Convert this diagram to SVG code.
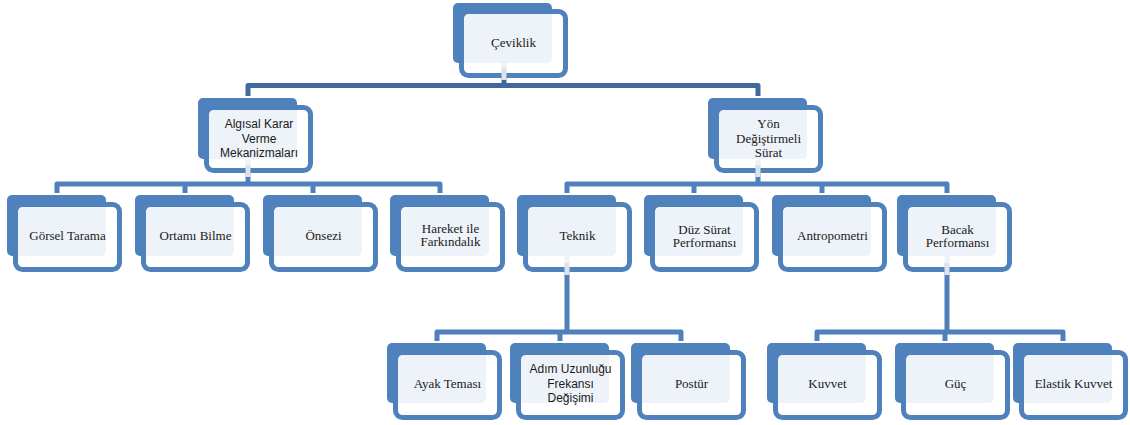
<svg xmlns="http://www.w3.org/2000/svg" width="1130" height="425" viewBox="0 0 1130 425">
  <style>
    .back { fill: #4f81bd; }
    .front { fill: #ffffff; fill-opacity: 0.9; stroke: #4f81bd; stroke-width: 5; }
    .serif { font-family: "Liberation Serif", "Times New Roman", serif; font-size: 13px; fill: #1a1a1a; text-anchor: middle; }
    .sans { font-family: "Liberation Sans", Arial, sans-serif; font-size: 12px; fill: #1a1a1a; text-anchor: middle; }
    .link { fill: none; stroke: #4f80bb; stroke-width: 5; stroke-linejoin: round; }
    .link-top { stroke: #41699b; }
    .tap { fill: #dbe3ee; }
  </style>
  <rect width="1130" height="425" fill="#ffffff"/>

  <!-- connectors -->
  <g id="connectors">
    <path class="link link-top" d="M504,63 V85.5 M248,96 V85.5 H758 V96"/>
    <path class="link" d="M248,160 V184 M57,193 V184 H440 V193 M185,184 V193 M313,184 V193"/>
    <path class="link" d="M758,160 V184 M567,193 V184 H947 V193 M694,184 V193 M822,184 V193"/>
    <path class="link" d="M567,256 V332 M437,341 V332 H681 V341 M560,332 V341"/>
    <path class="link" d="M947,256 V332 M817,341 V332 H1063 V341 M945,332 V341"/>
  </g>

  <!-- top -->
  <g id="n-ceviklik" transform="translate(453,3)">
    <rect class="back" width="99" height="60" rx="5"/>
    <rect class="front" x="8.5" y="8.5" width="104" height="64" rx="7"/>
    <rect class="tap" x="48.5" y="65" width="5" height="12"/>
    <text class="serif" x="60.5" y="44">Çeviklik</text>
  </g>

  <!-- level 1 -->
  <g id="n-algisal" transform="translate(198,98)">
    <rect class="back" width="99" height="61" rx="5"/>
    <rect class="front" x="8.5" y="9.5" width="104" height="63" rx="7"/>
    <rect class="tap" x="47.5" y="67" width="5" height="12"/>
    <text class="sans" x="61" y="30">Algısal Karar</text>
    <text class="sans" x="61" y="45">Verme</text>
    <text class="sans" x="61" y="59">Mekanizmaları</text>
  </g>
  <g id="n-yon" transform="translate(708,98)">
    <rect class="back" width="99" height="61" rx="5"/>
    <rect class="front" x="8.5" y="9.5" width="104" height="63" rx="7"/>
    <rect class="tap" x="47.5" y="67" width="5" height="12"/>
    <text class="serif" x="60.5" y="30">Yön</text>
    <text class="serif" x="60.5" y="45">Değiştirmeli</text>
    <text class="serif" x="60.5" y="59">Sürat</text>
  </g>

  <!-- level 2 -->
  <g id="n-gorsel" transform="translate(7,195)">
    <rect class="back" width="99" height="61" rx="5"/>
    <rect class="front" x="8.5" y="9.5" width="104" height="65" rx="7"/>
    <text class="serif" x="60.5" y="45">Görsel Tarama</text>
  </g>
  <g id="n-ortam" transform="translate(135,195)">
    <rect class="back" width="99" height="61" rx="5"/>
    <rect class="front" x="8.5" y="9.5" width="104" height="65" rx="7"/>
    <text class="serif" x="60.5" y="45">Ortamı Bilme</text>
  </g>
  <g id="n-onsezi" transform="translate(263,195)">
    <rect class="back" width="99" height="61" rx="5"/>
    <rect class="front" x="8.5" y="9.5" width="104" height="65" rx="7"/>
    <text class="serif" x="60.5" y="45">Önsezi</text>
  </g>
  <g id="n-hareket" transform="translate(390,195)">
    <rect class="back" width="99" height="61" rx="5"/>
    <rect class="front" x="8.5" y="9.5" width="104" height="65" rx="7"/>
    <text class="serif" x="60.5" y="38">Hareket ile</text>
    <text class="serif" x="60.5" y="51">Farkındalık</text>
  </g>
  <g id="n-teknik" transform="translate(517,195)">
    <rect class="back" width="99" height="61" rx="5"/>
    <rect class="front" x="8.5" y="9.5" width="104" height="65" rx="7"/>
    <rect class="tap" x="47.5" y="68" width="5" height="12"/>
    <text class="serif" x="60.5" y="45">Teknik</text>
  </g>
  <g id="n-duz" transform="translate(644,195)">
    <rect class="back" width="99" height="61" rx="5"/>
    <rect class="front" x="8.5" y="9.5" width="104" height="65" rx="7"/>
    <text class="serif" x="60.5" y="39">Düz Sürat</text>
    <text class="serif" x="60.5" y="52">Performansı</text>
  </g>
  <g id="n-antropometri" transform="translate(772,195)">
    <rect class="back" width="99" height="61" rx="5"/>
    <rect class="front" x="8.5" y="9.5" width="104" height="65" rx="7"/>
    <text class="serif" x="60.5" y="45">Antropometri</text>
  </g>
  <g id="n-bacak" transform="translate(897,195)">
    <rect class="back" width="99" height="61" rx="5"/>
    <rect class="front" x="8.5" y="9.5" width="104" height="65" rx="7"/>
    <rect class="tap" x="47.5" y="68" width="5" height="12"/>
    <text class="serif" x="60.5" y="39">Bacak</text>
    <text class="serif" x="60.5" y="52">Performansı</text>
  </g>

  <!-- level 3 -->
  <g id="n-ayak" transform="translate(387,343)">
    <rect class="back" width="99" height="60" rx="5"/>
    <rect class="front" x="8.5" y="9.5" width="104" height="65" rx="7"/>
    <text class="serif" x="60.5" y="45">Ayak Teması</text>
  </g>
  <g id="n-adim" transform="translate(510,343)">
    <rect class="back" width="99" height="60" rx="5"/>
    <rect class="front" x="8.5" y="9.5" width="104" height="65" rx="7"/>
    <text class="sans" x="60.5" y="30">Adım Uzunluğu</text>
    <text class="sans" x="60.5" y="44.5">Frekansı</text>
    <text class="sans" x="60.5" y="59">Değişimi</text>
  </g>
  <g id="n-postur" transform="translate(631,343)">
    <rect class="back" width="99" height="60" rx="5"/>
    <rect class="front" x="8.5" y="9.5" width="104" height="65" rx="7"/>
    <text class="serif" x="60.5" y="45">Postür</text>
  </g>
  <g id="n-kuvvet" transform="translate(767,343)">
    <rect class="back" width="99" height="60" rx="5"/>
    <rect class="front" x="8.5" y="9.5" width="104" height="65" rx="7"/>
    <text class="serif" x="60.5" y="45">Kuvvet</text>
  </g>
  <g id="n-guc" transform="translate(895,343)">
    <rect class="back" width="99" height="60" rx="5"/>
    <rect class="front" x="8.5" y="9.5" width="104" height="65" rx="7"/>
    <text class="serif" x="60.5" y="45">Güç</text>
  </g>
  <g id="n-elastik" transform="translate(1013,343)">
    <rect class="back" width="99" height="60" rx="5"/>
    <rect class="front" x="8.5" y="9.5" width="104" height="65" rx="7"/>
    <text class="serif" x="60.5" y="45">Elastik Kuvvet</text>
  </g>
</svg>
